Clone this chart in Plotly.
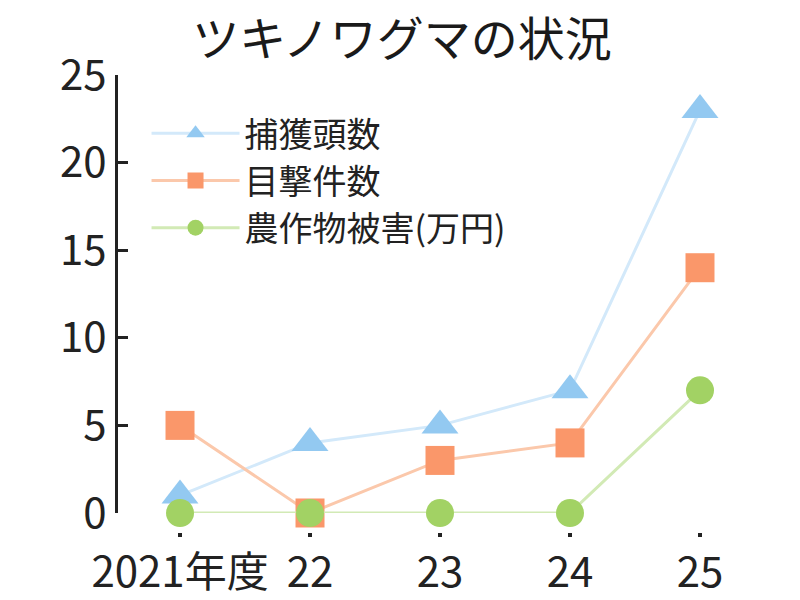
import plotly.graph_objects as go

categories = ["2021年度", "22", "23", "24", "25"]
capture = [1, 4, 5, 7, 23]
sightings = [5, 0, 3, 4, 14]
crop_damage = [0, 0, 0, 0, 7]
y_ticks = [0, 5, 10, 15, 20, 25]

series = [
    ("捕獲頭数", capture, "triangle-up", "#93c9f1", "#d3e9fa", 32),
    ("目撃件数", sightings, "square", "#fa976a", "#fbc8ab", 29),
    ("農作物被害(万円)", crop_damage, "circle", "#a2d264", "#d2eab5", 28),
]

FONT = "Noto Sans CJK JP, sans-serif"

fig = go.Figure()
for name, vals, sym, mcol, lcol, size in series:
    fig.add_trace(go.Scatter(
        x=categories, y=vals, name=name, mode="lines+markers",
        line=dict(color=lcol, width=3),
        marker=dict(symbol=sym, color=mcol, size=size, line=dict(width=0)),
        cliponaxis=False,
    ))

fig.update_layout(
    width=800, height=600,
    margin=dict(l=118, r=48, t=75, b=68),
    paper_bgcolor="white", plot_bgcolor="white",
    font=dict(family=FONT, color="#222222", size=40),
    title=dict(text="ツキノワグマの状況", x=0.5025, xref="container", y=1 - 40 / 600,
               yref="container", xanchor="center", yanchor="middle",
               font=dict(family="Noto Sans CJK JP", size=47, color="#1a1a1a")),
    showlegend=True,
    legend=dict(x=0.045, y=0.935, xanchor="left", yanchor="top",
                font=dict(family="Noto Sans CJK JP", size=34, color="#222222"),
                itemwidth=88, tracegroupgap=0, bgcolor="rgba(0,0,0,0)"),
    xaxis=dict(type="category", range=[-0.477, 4.4], showgrid=False, zeroline=False,
               showline=False, anchor="free", position=0, automargin=False,
               ticks="outside", ticklen=4, tickwidth=4, tickcolor="#222222",
               tickfont=dict(family=FONT, size=42, color="#222222")),
    yaxis=dict(range=[0, 25], domain=[0.0416, 1], tickvals=y_ticks, showgrid=False,
               zeroline=False, showline=True, linecolor="#222222", linewidth=3,
               automargin=False,
               ticks="inside", ticklen=10, tickwidth=3, tickcolor="#222222",
               tickfont=dict(family=FONT, size=42, color="#222222")),
)

fig.write_html("out.html")
